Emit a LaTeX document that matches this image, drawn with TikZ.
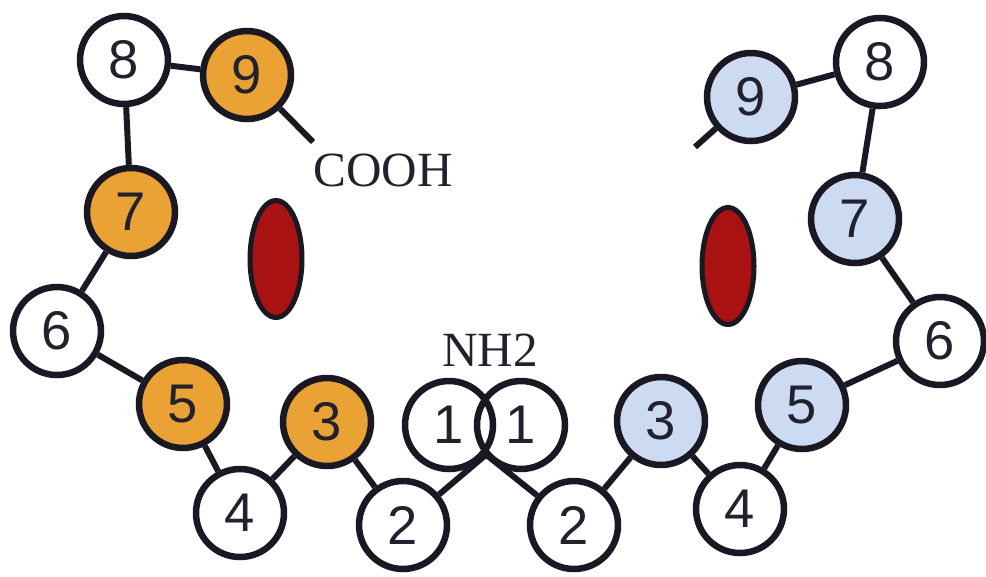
\documentclass[tikz,border=0pt]{standalone}
\usepackage{fontspec}
\setmainfont{Liberation Serif}
\newfontfamily\digitfont{Liberation Sans}
\usetikzlibrary{shapes.geometric}
\definecolor{ink}{HTML}{1A1822}
\definecolor{orangefill}{HTML}{E9A233}
\definecolor{bluefill}{HTML}{CCDAF2}
\definecolor{redfill}{HTML}{A81212}
\definecolor{textink}{HTML}{22212E}
\begin{document}
\begin{tikzpicture}[x=0.02cm,y=-0.02cm,
  res/.style={circle,draw=ink,line width=0.13cm,minimum size=1.76cm,inner sep=0pt,
    font=\digitfont\fontsize{31}{31}\selectfont,text=textink},
  plain/.style={res},
  orng/.style={res,fill=orangefill},
  blu/.style={res,fill=bluefill},
  link/.style={draw=ink,line width=0.12cm},
  site/.style={ellipse,draw=ink,line width=0.1cm,fill=redfill,minimum width=1.04cm,minimum height=2.34cm,inner sep=0pt},
  chem/.style={font=\fontsize{28}{28}\selectfont,text=textink,inner sep=0pt}]
\useasboundingbox (0,0) rectangle (986,576);
\coordinate (lend) at (313,142);
\coordinate (rend) at (695,147);
\path (124,60) coordinate (pl8) (247,75) coordinate (pl9) (131,212) coordinate (pl7)
      (57,331) coordinate (pl6) (183,404) coordinate (pl5) (240,513) coordinate (pl4)
      (327,422) coordinate (pl3) (403,525) coordinate (pl2) (449,425) coordinate (pl1)
      (521,425) coordinate (pr1) (574,525) coordinate (pr2) (661,421) coordinate (pr3)
      (740,509) coordinate (pr4) (802,405) coordinate (pr5) (940,341) coordinate (pr6)
      (855,219) coordinate (pr7) (880,62) coordinate (pr8) (751,97) coordinate (pr9);
% residues
\node[plain] (l8) at (pl8) {8};
\node[orng]  (l9) at (pl9) {9};
\node[orng]  (l7) at (pl7) {7};
\node[plain] (l6) at (pl6) {6};
\node[orng]  (l5) at (pl5) {5};
\node[plain] (l4) at (pl4) {4};
\node[orng]  (l3) at (pl3) {3};
\node[plain] (l2) at (pl2) {2};
\node[plain] (l1) at (pl1) {1};
\node[plain] (r1) at (pr1) {1};
\node[plain] (r2) at (pr2) {2};
\node[blu]   (r3) at (pr3) {3};
\node[plain] (r4) at (pr4) {4};
\node[blu]   (r5) at (pr5) {5};
\node[plain] (r6) at (pr6) {6};
\node[blu]   (r7) at (pr7) {7};
\node[plain] (r8) at (pr8) {8};
\node[blu]   (r9) at (pr9) {9};
% links
\draw[link] (l8) -- (l9);
\draw[link] (l8) -- (l7);
\draw[link] (l7) -- (l6);
\draw[link] (l6) -- (l5);
\draw[link] (l5) -- (l4);
\draw[link] (l4) -- (l3);
\draw[link] (l3) -- (l2);
\draw[link] (l2) -- (r1);
\draw[link] (l1) -- (r2);
\draw[link] (r2) -- (r3);
\draw[link] (r3) -- (r4);
\draw[link] (r4) -- (r5);
\draw[link] (r5) -- (r6);
\draw[link] (r6) -- (r7);
\draw[link] (r7) -- (r8);
\draw[link] (r8) -- (r9);
\draw[link] (l9) -- (lend);
\draw[link] (r9) -- (rend);
% binding sites
\node[site] (sl) at (276,259) {};
\node[site] (sr) at (728,266) {};
% labels
\node[chem] (cooh) at (383,170) {COOH};
\node[chem] (nh2) at (490,350) {NH2};
\end{tikzpicture}
\end{document}
